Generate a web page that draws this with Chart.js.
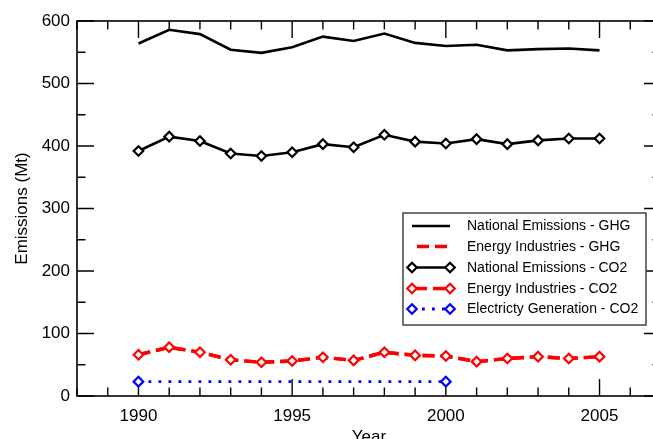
<!DOCTYPE html>
<html>
<head>
<meta charset="utf-8">
<script src="https://cdn.jsdelivr.net/npm/chart.js@4/dist/chart.umd.min.js"></script>
<style>
  html, body { margin: 0; padding: 0; background: #fff; overflow: hidden; width: 653px; height: 439px; }
  #wrap { position: absolute; left: 0; top: 0; width: 680px; height: 460px; }
</style>
</head>
<body>
<div id="wrap"><canvas id="c" width="680" height="460"></canvas></div>
<script>
// ---- data ----
const years = [1990, 1991, 1992, 1993, 1994, 1995, 1996, 1997, 1998, 1999, 2000, 2001, 2002, 2003, 2004, 2005];
const nationalGHG = [564, 586, 579, 554, 549, 558, 575, 568, 580, 565, 560, 562, 553, 555, 556, 553];
const energyGHG   = [66, 78, 70, 58, 54, 56, 62, 57, 70, 65, 64, 55, 60, 63, 60, 63];
const nationalCO2 = [392, 415, 408, 388, 384, 390, 403, 398, 418, 407, 404, 411, 403, 409, 412, 412];
const energyCO2   = [66, 78, 70, 58, 54, 56, 62, 57, 70, 65, 64, 55, 60, 63, 60, 63];
const elecYears   = [1990, 2000];
const elecCO2     = [23, 23];
const xTickLabels = [1990, 1995, 2000, 2005];
const yTickLabels = [0, 100, 200, 300, 400, 500, 600];
const seriesNames = ['National Emissions - GHG', 'Energy Industries - GHG', 'National Emissions - CO2', 'Energy Industries - CO2', 'Electricty Generation - CO2'];

const pts = (xs, ys) => xs.map((x, i) => ({ x: x, y: ys[i] }));

const FONT = '"Liberation Sans", Arial, Helvetica, sans-serif';

const datasets = [
  { label: seriesNames[0], data: pts(years, nationalGHG), borderColor: '#000', borderWidth: 2.6, pointRadius: 0, order: 5 },
  { label: seriesNames[1], data: pts(years, energyGHG), borderColor: '#ff0000', borderWidth: 3.4, borderDash: [12, 6], pointRadius: 0, order: 4 },
  { label: seriesNames[2], data: pts(years, nationalCO2), borderColor: '#000', borderWidth: 2.6, pointStyle: 'rectRot', pointRadius: 4.8, pointBorderWidth: 2.2, pointBackgroundColor: '#fff', pointBorderColor: '#000', order: 3 },
  { label: seriesNames[3], data: pts(years, energyCO2), borderColor: '#ff0000', borderWidth: 3.4, borderDash: [12, 6], pointStyle: 'rectRot', pointRadius: 4.8, pointBorderWidth: 2.2, pointBackgroundColor: '#fff', pointBorderColor: '#ff0000', order: 2 },
  { label: seriesNames[4], data: pts(elecYears, elecCO2), borderColor: '#0000ff', borderWidth: 2.8, borderDash: [2.8, 7.2], borderCapStyle: 'butt', pointStyle: 'rectRot', pointRadius: 4.8, pointBorderWidth: 2.2, pointBackgroundColor: '#fff', pointBorderColor: '#0000ff', order: 1 }
];

// frame + inward ticks on all four sides, plus legend box
const framePlugin = {
  id: 'frame',
  beforeDatasetsDraw(chart) {
    const { ctx, chartArea: a, scales: { x, y } } = chart;
    ctx.save();
    ctx.strokeStyle = '#000';
    ctx.lineWidth = 1.4;
    ctx.beginPath();
    for (let yr = 1988; yr <= 2007; yr++) {
      const px = x.getPixelForValue(yr);
      const len = (yr % 5 === 0) ? 17 : 8.5;
      ctx.moveTo(px, a.bottom); ctx.lineTo(px, a.bottom - len);
      ctx.moveTo(px, a.top); ctx.lineTo(px, a.top + len);
    }
    for (let v = 0; v <= 600; v += 50) {
      const py = y.getPixelForValue(v);
      const len = (v % 100 === 0) ? 17 : 8.5;
      ctx.moveTo(a.left, py); ctx.lineTo(a.left + len, py);
      ctx.moveTo(a.right, py); ctx.lineTo(a.right - len, py);
    }
    ctx.stroke();
    ctx.lineWidth = 1.6;
    ctx.strokeRect(a.left, a.top, a.right - a.left, a.bottom - a.top);
    ctx.restore();
  },
  afterDatasetsDraw(chart) {
    const { ctx } = chart;
    const bx = 403, by = 213, bw = 243, bh = 112;
    ctx.save();
    ctx.fillStyle = '#fff';
    ctx.fillRect(bx, by, bw, bh);
    ctx.strokeStyle = '#444';
    ctx.lineWidth = 1.5;
    ctx.strokeRect(bx, by, bw, bh);
    const rows = [226, 246.5, 267.5, 288.5, 309];
    const x0 = 412, x1 = 450;
    chart.data.datasets.forEach((ds, i) => {
      const ry = rows[i];
      ctx.save();
      ctx.strokeStyle = ds.borderColor;
      ctx.lineWidth = ds.borderWidth;
      ctx.lineCap = 'butt';
      ctx.setLineDash(ds.borderDash || []);
      if (i === 1) ctx.lineDashOffset = -5;
      if (i === 3) ctx.lineDashOffset = -3;
      ctx.beginPath();
      ctx.moveTo(x0, ry); ctx.lineTo(x1, ry);
      ctx.stroke();
      ctx.restore();
      if (ds.pointRadius) {
        [x0, x1].forEach(px => {
          const r = ds.pointRadius;
          ctx.save();
          ctx.beginPath();
          ctx.moveTo(px, ry - r); ctx.lineTo(px + r, ry); ctx.lineTo(px, ry + r); ctx.lineTo(px - r, ry); ctx.closePath();
          ctx.fillStyle = '#fff';
          ctx.fill();
          ctx.lineWidth = ds.pointBorderWidth;
          ctx.strokeStyle = ds.pointBorderColor;
          ctx.stroke();
          ctx.restore();
        });
      }
      ctx.fillStyle = '#000';
      ctx.font = '14px ' + FONT;
      ctx.textBaseline = 'middle';
      ctx.textAlign = 'left';
      ctx.fillText(ds.label, 467, ry + 0.5);
    });
    ctx.restore();
  }
};

new Chart(document.getElementById('c'), {
  type: 'line',
  data: { datasets: datasets },
  options: {
    responsive: false,
    animation: false,
    devicePixelRatio: 1,
    layout: { padding: { left: 0, top: 21, right: 19, bottom: 0 } },
    plugins: { legend: { display: false }, tooltip: { enabled: false } },
    scales: {
      x: {
        type: 'linear', min: 1988, max: 2007,
        grid: { display: false, drawTicks: false },
        border: { display: false },
        afterBuildTicks: s => { s.ticks = xTickLabels.map(v => ({ value: v })); },
        afterFit: s => { s.height = 64; },
        ticks: { color: '#000', font: { family: FONT, size: 17 }, padding: 10, maxRotation: 0, callback: v => String(v) },
        title: { display: true, text: 'Year', color: '#000', font: { family: FONT, size: 17 }, padding: { top: 0, bottom: 12 } }
      },
      y: {
        min: 0, max: 600,
        grid: { display: false, drawTicks: false },
        border: { display: false },
        afterBuildTicks: s => { s.ticks = yTickLabels.map(v => ({ value: v })); },
        afterFit: s => { s.width = 77; },
        ticks: { color: '#000', font: { family: FONT, size: 17 }, padding: 7, callback: v => String(v) },
        title: { display: true, text: 'Emissions (Mt)', color: '#000', font: { family: FONT, size: 17 }, padding: { top: 12, bottom: 0 } }
      }
    }
  },
  plugins: [framePlugin]
});
</script>
</body>
</html>
